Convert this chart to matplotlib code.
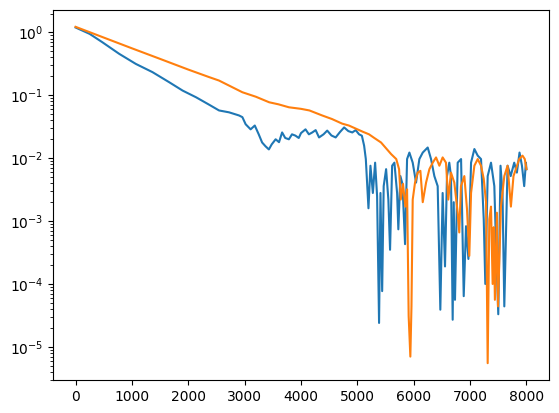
import matplotlib
matplotlib.use("Agg")
import matplotlib.pyplot as plt

# blue series (step, value)
blue_x = [0, 250, 475, 775, 1070, 1365, 1660, 1900, 2140, 2370,
          2546, 2723, 2900, 2960, 3018, 3106, 3180, 3250, 3310, 3370,
          3430, 3480, 3550, 3610, 3665, 3720, 3785, 3840, 3900, 3960,
          4000, 4080, 4140, 4200, 4260, 4320, 4400, 4465, 4540, 4615,
          4690, 4765, 4840, 4910, 4970, 5030, 5080, 5120,
          5150, 5197, 5232, 5275, 5315, 5350, 5385, 5410, 5440, 5467,
          5510, 5550, 5580, 5617, 5657, 5705, 5727, 5763, 5800, 5846,
          5882, 5923, 5982, 6041, 6100, 6160, 6248, 6307, 6366, 6425,
          6472, 6513, 6555, 6590, 6631, 6661, 6691, 6710, 6732, 6780,
          6840, 6887, 6928, 6970, 7017, 7076, 7135, 7194, 7242, 7270,
          7312, 7371, 7430, 7465, 7500, 7540, 7575, 7607, 7665, 7720,
          7783, 7830, 7877, 7920, 7960, 7990, 8000]
blue_y = [1.2, 0.95, 0.70, 0.457, 0.316, 0.234, 0.162, 0.119, 0.093, 0.071,
          0.0575, 0.0537, 0.0479, 0.045, 0.0347, 0.0288, 0.0331, 0.024, 0.0178, 0.0155,
          0.0138, 0.0166, 0.020, 0.018, 0.0257, 0.021, 0.020, 0.024, 0.0229, 0.021,
          0.0251, 0.0288, 0.024, 0.0257, 0.028, 0.0214, 0.024, 0.0275, 0.023, 0.0214,
          0.026, 0.0309, 0.027, 0.0257, 0.028, 0.024, 0.0228, 0.0158,
          0.0097, 0.0016, 0.0076, 0.0028, 0.0085, 0.0025, 2.4e-5, 0.0028, 7.7e-5, 0.0036,
          0.0067, 0.0022, 3.5e-4, 0.0076, 0.0085, 0.0028, 7.4e-4, 0.0052, 0.0039, 4.3e-4,
          0.0097, 0.0123, 0.0085, 0.0041, 0.0097, 0.0123, 0.0148, 0.0097, 0.0052, 0.0036,
          3.9e-5, 0.0028, 1.9e-4, 0.0052, 0.0085, 0.0052, 2.7e-5, 0.002, 5.6e-5, 0.0085,
          0.0097, 6.4e-5, 8.3e-4, 2.5e-4, 0.0085, 0.014, 0.011, 0.0097, 0.00107, 1.0e-4,
          0.0052, 0.0085, 0.0036, 3e-4, 3.3e-5, 0.0076, 0.0028, 4.4e-5, 0.0076, 0.0052,
          0.0085, 0.0059, 0.0123, 0.0076, 0.0036, 0.0085, 0.0067]

# orange series (step, value)
orange_x = [0, 500, 1000, 1500, 2000, 2370, 2545, 2960, 3200, 3435,
            3600, 3785, 4000, 4150, 4375, 4550, 4730, 4850, 4975, 5100,
            5207, 5300, 5420, 5600, 5690, 5740, 5770, 5810, 5852, 5882,
            5910, 5940, 5960, 5982, 6023, 6070, 6118, 6160, 6219, 6278,
            6337, 6396, 6455, 6513, 6572, 6613, 6661, 6720, 6780, 6808,
            6838, 6898, 6945, 6986, 7017, 7076, 7135, 7194, 7242, 7283,
            7312, 7341, 7371, 7400, 7420, 7440, 7476, 7495, 7547, 7607,
            7665, 7724, 7770, 7812, 7871, 7930, 7970, 8000]
orange_y = [1.23, 0.83, 0.56, 0.38, 0.257, 0.195, 0.172, 0.112, 0.095, 0.0776,
            0.072, 0.0646, 0.061, 0.0575, 0.0479, 0.042, 0.0355, 0.0331, 0.0295, 0.0263,
            0.024, 0.021, 0.0178, 0.0116, 0.0097, 0.0067, 0.0022, 0.0039, 0.0017, 0.0032,
            3.1e-5, 7e-6, 4.4e-5, 0.0022, 0.0041, 0.0059, 0.0063, 0.0020, 0.0041, 0.0067,
            0.0085, 0.0103, 0.0076, 0.0103, 0.0085, 0.0022, 0.0059, 0.0041, 0.00136, 6.6e-4,
            0.0036, 0.0052, 0.00155, 2.8e-4, 0.0028, 0.0076, 0.0097, 0.0076, 0.0047, 0.002,
            5.5e-6, 0.00107, 0.0017, 1.0e-4, 8e-4, 5.6e-5, 0.00136, 4.4e-5, 0.0017, 0.0052,
            0.0076, 0.0017, 0.0052, 0.0067, 0.0097, 0.011, 0.0097, 0.0067]

fig = plt.figure(figsize=(5.59, 4.13), dpi=100)
ax = fig.add_subplot(111)
fig.subplots_adjust(left=53/559, right=549/559, top=1-10/413, bottom=1-380/413)

ax.plot(blue_x, blue_y)
ax.plot(orange_x, orange_y)
ax.set_yscale("log")

fig.savefig("out.png", dpi=100)
